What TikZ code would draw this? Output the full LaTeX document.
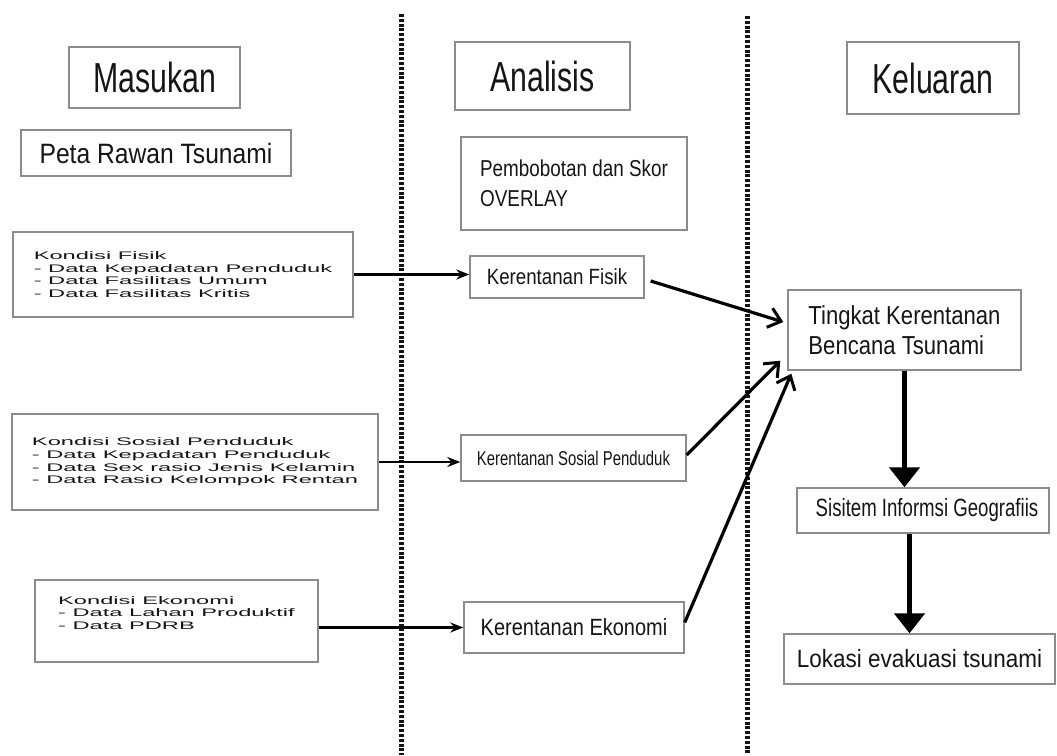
\documentclass[tikz,border=0pt]{standalone}
\usepackage{fontspec}
\setmainfont{Liberation Sans}
\newfontfamily\fHead[FakeStretch=0.72]{Liberation Sans}
\newfontfamily\fSeventyFive[FakeStretch=0.745]{Liberation Sans}
\newfontfamily\fEightTwo[FakeStretch=0.82]{Liberation Sans}
\newfontfamily\fEightFive[FakeStretch=0.85]{Liberation Sans}
\newfontfamily\fEightEight[FakeStretch=0.88]{Liberation Sans}
\newfontfamily\fNinety[FakeStretch=0.9]{Liberation Sans}
\newfontfamily\fWide[FakeStretch=2.15]{Liberation Sans}
\usetikzlibrary{arrows.meta}
\definecolor{boxgray}{HTML}{8C8C8C}
\definecolor{txt}{HTML}{151515}
\tikzset{
  box/.style={draw=boxgray, line width=1.4pt, inner sep=0pt, text=txt, align=center},
  lbox/.style={box, align=left},
  headtxt/.style={font=\fHead\fontsize{42}{48}\selectfont},
  listtxt/.style={font=\fWide\fontsize{11}{12.6}\selectfont},
  divider/.style={line width=5pt, dash pattern=on 3pt off 1.8pt, draw=black!92},
  inarrow/.style={line width=2.2pt, -{Stealth[length=13pt,width=10pt]}},
  toarrow/.style={line width=3.2pt, -{Straight Barb[length=12pt,width=20pt,line width=3pt]}},
  downarrow/.style={line width=5pt, -{Triangle[length=20pt,width=30pt]}},
}
\begin{document}
\begin{tikzpicture}[x=1pt,y=-1pt]
\useasboundingbox (0,0) rectangle (1057,755);
% dividers
\coordinate (d1t) at (401,14);
\coordinate (d1b) at (401,755);
\coordinate (d2t) at (747,16);
\coordinate (d2b) at (747,755);
\draw[divider] (d1t) -- (d1b);
\draw[divider] (d2t) -- (d2b);
% headers
\node[box, headtxt, minimum width=171pt, minimum height=61pt] (masukan) at (154.5,77.5) {Masukan};
\node[box, headtxt, minimum width=175pt, minimum height=68pt] (analisis) at (542.5,76) {Analisis};
\node[box, headtxt, minimum width=172pt, minimum height=72pt] (keluaran) at (933,78) {Keluaran};
% left column
\node[box, font=\fEightEight\fontsize{28}{32}\selectfont, minimum width=270pt, minimum height=46pt] (peta) at (156,153) {Peta Rawan Tsunami};
\node[lbox, listtxt, minimum width=340pt, minimum height=85pt] (kfis) at (183,274.5)
  {Kondisi Fisik\\- Data Kepadatan Penduduk\\- Data Fasilitas Umum\\- Data Fasilitas Kritis};
\node[lbox, listtxt, minimum width=366pt, minimum height=96pt] (ksos) at (195,462)
  {Kondisi Sosial Penduduk\\- Data Kepadatan Penduduk\\- Data Sex rasio Jenis Kelamin\\- Data Rasio Kelompok Rentan};
\node[lbox, font=\fWide\fontsize{11}{12.3}\selectfont, minimum width=283pt, minimum height=82pt] (kekon) at (176.5,621)
  {Kondisi Ekonomi\\- Data Lahan Produktif\\- Data PDRB\\[4pt]};
% middle column
\node[lbox, font=\fEightTwo\fontsize{23}{30}\selectfont, minimum width=226pt, minimum height=93pt] (bobot) at (574,183.5)
  {Pembobotan dan Skor\\OVERLAY};
\node[box, font=\fEightFive\fontsize{22}{26}\selectfont, minimum width=174pt, minimum height=42pt] (kerfis) at (557,277) {Kerentanan Fisik};
\node[box, font=\fSeventyFive\fontsize{20}{24}\selectfont, minimum width=225pt, minimum height=46pt] (kersos) at (573.5,458) {Kerentanan Sosial Penduduk};
\node[box, font=\fEightFive\fontsize{23.5}{28}\selectfont, minimum width=220pt, minimum height=51pt] (kerek) at (574,627.5) {Kerentanan Ekonomi};
% right column
\node[lbox, font=\fEightFive\fontsize{26}{30}\selectfont, minimum width=233pt, minimum height=80pt] (ting) at (904.5,330)
  {Tingkat Kerentanan\\Bencana Tsunami};
\node[box, font=\fSeventyFive\fontsize{25}{30}\selectfont, minimum width=252pt, minimum height=45pt] (sig) at (923,510.5) {\hspace*{8pt}Sisitem Informsi Geografiis};
\node[box, font=\fNinety\fontsize{25}{30}\selectfont, minimum width=271pt, minimum height=50pt] (lok) at (919.5,659) {Lokasi evakuasi tsunami};
% connectors
\draw[inarrow] (kfis.east) -- (kfis.east -| kerfis.west);
\draw[inarrow] (ksos.east) -- (ksos.east -| kersos.west);
\draw[inarrow] (kekon.east |- kerek.west) -- (kerek.west);
\draw[toarrow] ([xshift=6pt,yshift=-4pt]kerfis.east) -- ([xshift=-4pt,yshift=8pt]ting.west);
\draw[toarrow] ([yshift=3pt]kersos.east) -- ([xshift=-7pt,yshift=10pt]ting.south west);
\draw[toarrow] ([yshift=5pt]kerek.east) -- ([xshift=4pt,yshift=-3pt]ting.south west);
\draw[downarrow] (ting.south) -- (ting.south |- sig.north);
\coordinate (c2) at ([xshift=5pt]ting.south);
\draw[downarrow] (c2 |- sig.south) -- (c2 |- lok.north);
\end{tikzpicture}
\end{document}
